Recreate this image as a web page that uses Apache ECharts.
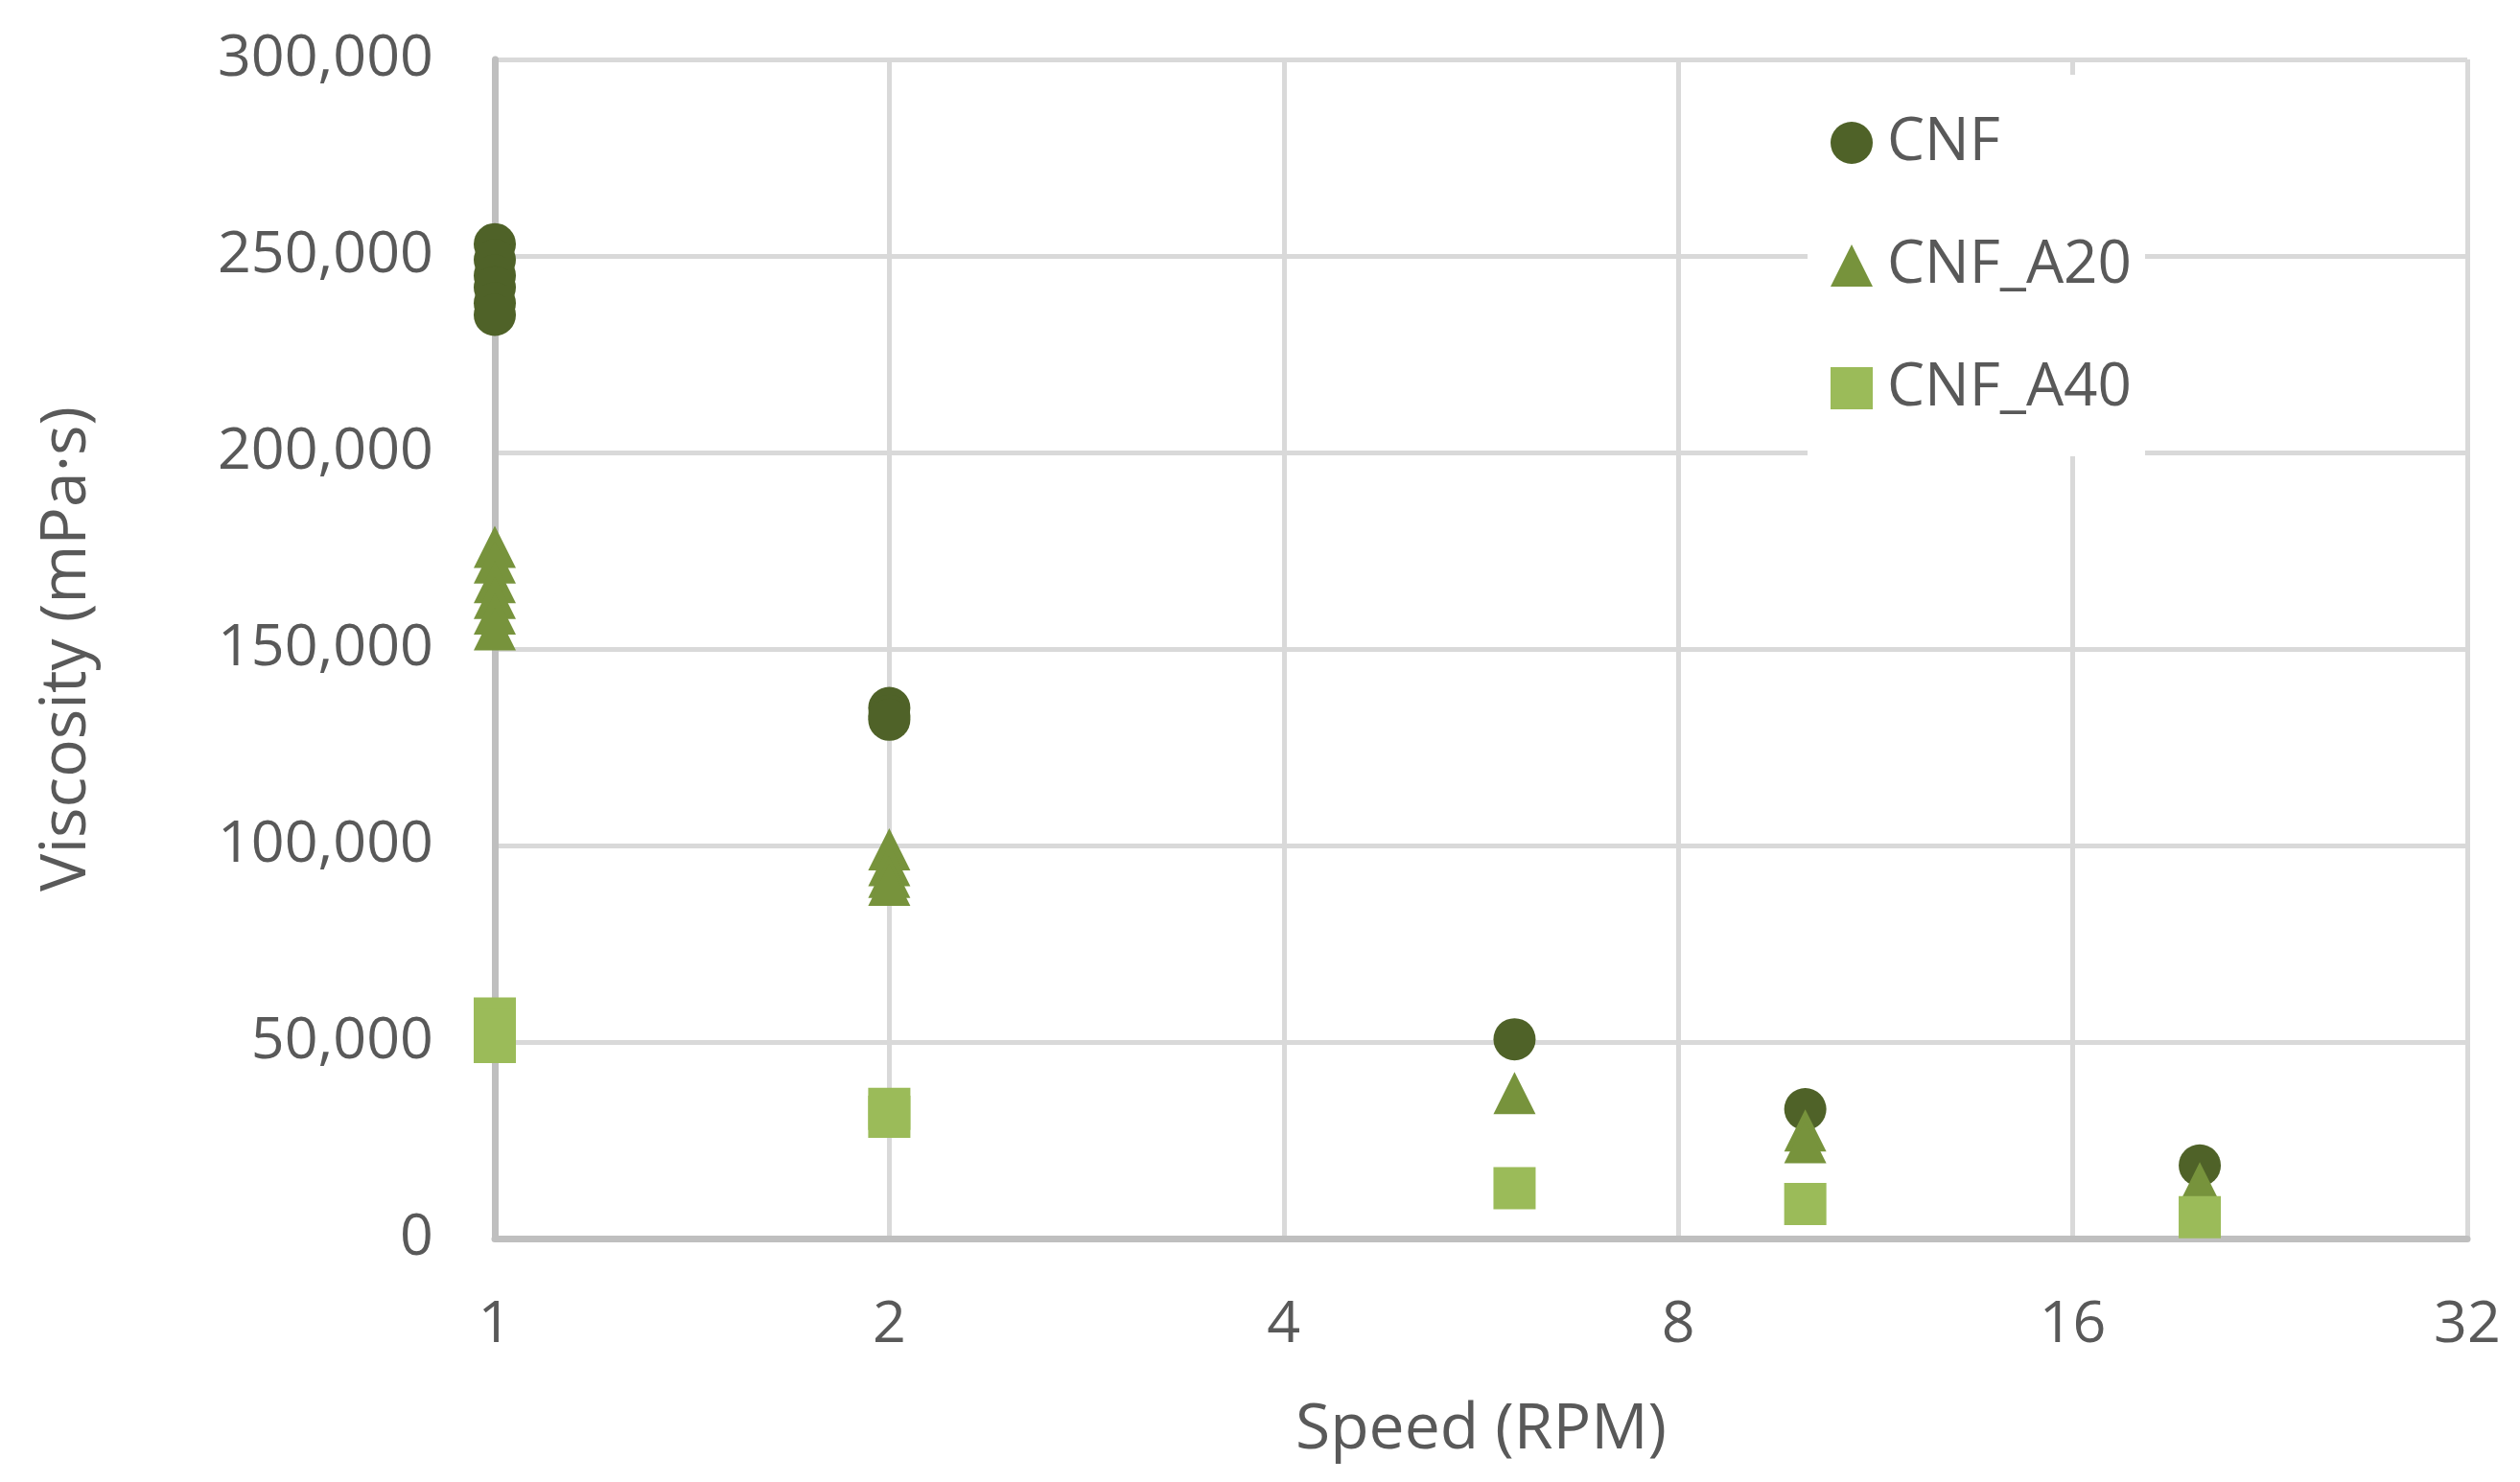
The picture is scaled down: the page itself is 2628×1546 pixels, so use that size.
<!DOCTYPE html>
<html>
<head>
<meta charset="utf-8">
<script src="https://cdn.jsdelivr.net/npm/echarts@6/dist/echarts.min.js"></script>
<style>
  html, body { margin: 0; padding: 0; background: #fff; }
  #chart { width: 2628px; height: 1546px; }
</style>
</head>
<body>
<div id="chart"></div>
<script>
// speeds (RPM) and viscosity readings (mPa·s)
var cnfSpeed = [1, 1, 1, 1, 1, 1, 2, 2, 2, 6, 10, 20];
var cnfVisc  = [253000, 249000, 245000, 242000, 238000, 235000, 135000, 133000, 132000, 50700, 32900, 18600];

var a20Speed = [1, 1, 1, 1, 1, 1, 2, 2, 2, 2, 6, 10, 10, 20];
var a20Visc  = [176000, 172000, 167000, 163000, 159000, 155000, 99000, 95000, 92000, 90000, 37000, 27500, 24500, 14100];

var a40Speed = [1, 1, 1, 2, 2, 6, 10, 20];
var a40Visc  = [56000, 53000, 50000, 33000, 31000, 12800, 8800, 5400];

var seriesNames = ['CNF', 'CNF_A20', 'CNF_A40'];
var seriesColors = ['#4f6228', '#77933c', '#9bbb59'];
var seriesSymbols = ['circle', 'triangle', 'rect'];

var FONT = 'Open Sans';
var TEXT = '#595959';

function pairs(xs, ys) {
  var out = [];
  for (var i = 0; i < xs.length; i++) out.push([xs[i], ys[i]]);
  return out;
}

var allData = [pairs(cnfSpeed, cnfVisc), pairs(a20Speed, a20Visc), pairs(a40Speed, a40Visc)];

var chart = echarts.init(document.getElementById('chart'));

var option = {
  backgroundColor: '#fff',
  animation: false,
  textStyle: { fontFamily: FONT },
  grid: { left: 516, right: 55, top: 62, bottom: 254, outerBoundsMode: 'none', containLabel: false },
  legend: {
    orient: 'vertical',
    left: 1885,
    top: 78,
    backgroundColor: '#fff',
    padding: [40, 14, 40, 24],
    itemGap: 66,
    itemWidth: 44,
    itemHeight: 44,
    textStyle: { fontSize: 62, color: TEXT, fontFamily: FONT, padding: [0, 0, 0, 10] },
    data: seriesNames
  },
  xAxis: {
    type: 'log',
    logBase: 2,
    min: 1,
    max: 32,
    name: 'Speed (RPM)',
    nameLocation: 'middle',
    nameGap: 167,
    nameTextStyle: { fontSize: 66, color: TEXT, fontFamily: FONT },
    axisLine: { lineStyle: { color: '#bfbfbf', width: 7 } },
    axisTick: { show: false },
    minorTick: { show: false },
    axisLabel: { fontSize: 61, color: TEXT, margin: 60, fontFamily: FONT },
    splitLine: { show: true, lineStyle: { color: '#d9d9d9', width: 5 } }
  },
  yAxis: {
    type: 'value',
    min: 0,
    max: 300000,
    interval: 50000,
    name: 'Viscosity (mPa·s)',
    nameLocation: 'middle',
    nameGap: 413,
    nameTextStyle: { fontSize: 66, color: TEXT, fontFamily: FONT },
    axisLine: { show: true, lineStyle: { color: '#bfbfbf', width: 7 } },
    axisTick: { show: false },
    axisLabel: {
      fontSize: 61,
      color: TEXT,
      margin: 64,
      fontFamily: FONT,
      formatter: function (v) { return v.toLocaleString('en-US'); }
    },
    splitLine: { show: true, lineStyle: { color: '#d9d9d9', width: 5 } }
  },
  series: seriesNames.map(function (name, i) {
    return {
      name: name,
      type: 'scatter',
      symbol: seriesSymbols[i],
      symbolSize: 44,
      itemStyle: { color: seriesColors[i], opacity: 1 },
      data: allData[i]
    };
  })
};

chart.setOption(option);
</script>
</body>
</html>
